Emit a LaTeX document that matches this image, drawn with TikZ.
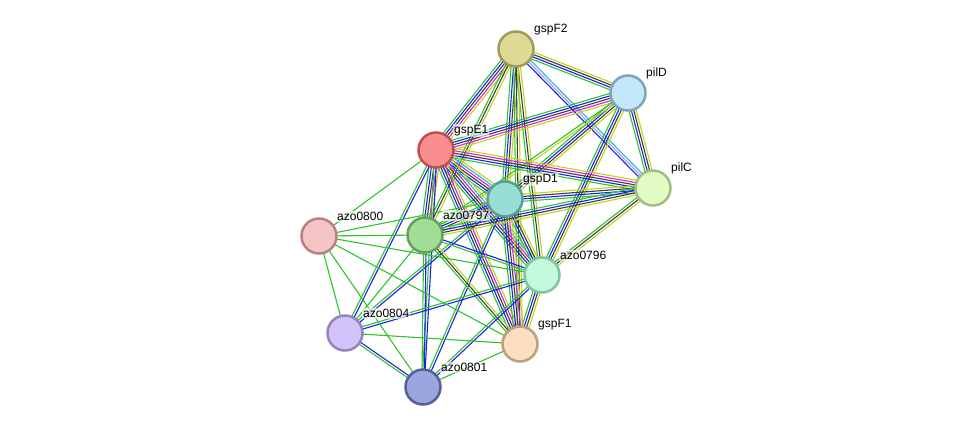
\documentclass[tikz,border=0pt]{standalone}
\usepackage{fontspec}
\setsansfont{Liberation Sans}
\usetikzlibrary{calc}
\pgfdeclarelayer{bg}
\pgfsetlayers{bg,main}

% evidence channels
\definecolor{nbhd}{RGB}{45,195,45}
\definecolor{cooc}{RGB}{30,30,235}
\definecolor{coex}{RGB}{60,60,60}
\definecolor{expt}{RGB}{220,30,220}
\definecolor{dbase}{RGB}{40,180,220}
\definecolor{txtm}{RGB}{190,210,30}
\definecolor{homo}{RGB}{160,160,250}

\newcommand{\linesep}{2.4}
\newcommand{\strlink}[3]{%
  \foreach \c [count=\n] in {#3} {\xdef\nlines{\n}}%
  \foreach \c [count=\i] in {#3} {%
    \pgfmathsetmacro\off{(\i-(\nlines+1)/2)*\linesep}%
    \draw[link, color=\c] ($(#1)!\off pt!90:(#2)$) -- ($(#2)!\off pt!-90:(#1)$);
  }%
}

\tikzset{
  prot/.style={circle, draw, line width=2.5pt, minimum size=35pt, inner sep=0pt},
  plabel/.style={font=\sffamily\fontsize{12}{12}\selectfont, anchor=west, inner sep=1pt,
    fill=white, fill opacity=.6, text opacity=1},
  link/.style={line width=1.1pt}
}

\begin{document}
\begin{tikzpicture}[x=1pt, y=-1pt]

        \useasboundingbox (0,0) rectangle (976,433);

        % proteins
        \node (gspF2) at (516,49)  [prot, fill={rgb,255:red,222;green,218;blue,148}, draw={rgb,255:red,160;green,155;blue,90}] {};
        \node (pilD) at (628,93)  [prot, fill={rgb,255:red,196;green,232;blue,250}, draw={rgb,255:red,125;green,165;blue,190}] {};
        \node (gspE1) at (436,150)  [prot, fill={rgb,255:red,250;green,142;blue,142}, draw={rgb,255:red,190;green,80;blue,80}] {};
        \node (gspD1) at (505,199)  [prot, fill={rgb,255:red,152;green,222;blue,212}, draw={rgb,255:red,90;green,160;blue,150}] {};
        \node (pilC) at (653,188)  [prot, fill={rgb,255:red,226;green,250;blue,196}, draw={rgb,255:red,160;green,190;blue,130}] {};
        \node (azo0800) at (319,236)  [prot, fill={rgb,255:red,245;green,196;blue,196}, draw={rgb,255:red,185;green,130;blue,130}] {};
        \node (azo0797) at (425,235)  [prot, fill={rgb,255:red,160;green,222;blue,150}, draw={rgb,255:red,100;green,160;blue,95}] {};
        \node (azo0796) at (542,275)  [prot, fill={rgb,255:red,196;green,250;blue,220}, draw={rgb,255:red,130;green,195;blue,160}] {};
        \node (azo0804) at (345,333)  [prot, fill={rgb,255:red,210;green,196;blue,250}, draw={rgb,255:red,150;green,130;blue,190}] {};
        \node (gspF1) at (520,344)  [prot, fill={rgb,255:red,252;green,222;blue,192}, draw={rgb,255:red,190;green,160;blue,125}] {};
        \node (azo0801) at (423,387)  [prot, fill={rgb,255:red,155;green,165;blue,222}, draw={rgb,255:red,85;green,95;blue,155}] {};

        % names
        \node (gspF2l) at (533,29.5) [plabel] {gspF2};
        \node (pilDl) at (645,73.5) [plabel] {pilD};
        \node (gspE1l) at (453,130.5) [plabel] {gspE1};
        \node (gspD1l) at (522,179.5) [plabel] {gspD1};
        \node (pilCl) at (670,168.5) [plabel] {pilC};
        \node (azo0800l) at (336,216.5) [plabel] {azo0800};
        \node (azo0797l) at (442,215.5) [plabel] {azo0797};
        \node (azo0796l) at (559,255.5) [plabel] {azo0796};
        \node (azo0804l) at (362,313.5) [plabel] {azo0804};
        \node (gspF1l) at (537,324.5) [plabel] {gspF1};
        \node (azo0801l) at (440,367.5) [plabel] {azo0801};

        \begin{pgfonlayer}{bg}
        \strlink{gspF2}{pilD}{nbhd,cooc,coex,txtm}
        \strlink{gspF2}{gspE1}{nbhd,cooc,coex,expt,txtm}
        \strlink{gspF2}{gspD1}{nbhd,cooc,coex,txtm}
        \strlink{gspF2}{azo0797}{nbhd,coex,txtm}
        \strlink{gspF2}{azo0796}{nbhd,coex,txtm}
        \strlink{gspF2}{gspF1}{nbhd,coex,txtm}
        \strlink{gspF2}{pilC}{cooc,homo,dbase}
        \strlink{pilD}{gspE1}{nbhd,cooc,coex,expt,txtm}
        \strlink{pilD}{pilC}{nbhd,cooc,coex,txtm}
        \strlink{pilD}{gspD1}{nbhd,cooc,coex,txtm}
        \strlink{pilD}{azo0796}{nbhd,cooc,coex,txtm}
        \strlink{pilD}{azo0797}{nbhd,txtm}
        \strlink{gspE1}{pilC}{nbhd,cooc,coex,expt,txtm}
        \strlink{gspE1}{gspD1}{nbhd,cooc,coex,expt,dbase,txtm}
        \strlink{gspE1}{azo0797}{nbhd,cooc,coex,expt,txtm}
        \strlink{gspE1}{azo0796}{nbhd,cooc,coex,expt,dbase,txtm}
        \strlink{gspE1}{gspF1}{nbhd,cooc,coex,expt,txtm}
        \strlink{gspE1}{azo0804}{nbhd,cooc}
        \strlink{gspE1}{azo0801}{nbhd,cooc}
        \strlink{gspE1}{azo0800}{nbhd}
        \strlink{gspD1}{pilC}{nbhd,cooc,coex,txtm}
        \strlink{gspD1}{azo0797}{nbhd,cooc,coex,txtm}
        \strlink{gspD1}{azo0796}{nbhd,cooc,coex,txtm}
        \strlink{gspD1}{gspF1}{nbhd,cooc,coex,expt,txtm}
        \strlink{gspD1}{azo0804}{nbhd,cooc}
        \strlink{gspD1}{azo0801}{nbhd,cooc}
        \strlink{gspD1}{azo0800}{nbhd}
        \strlink{pilC}{azo0797}{nbhd,cooc,coex,txtm}
        \strlink{pilC}{azo0796}{nbhd,coex,txtm}
        \strlink{azo0797}{azo0796}{nbhd,cooc}
        \strlink{azo0797}{gspF1}{nbhd,coex,txtm}
        \strlink{azo0797}{azo0801}{nbhd,cooc}
        \strlink{azo0797}{azo0804}{nbhd}
        \strlink{azo0797}{azo0800}{nbhd}
        \strlink{azo0796}{gspF1}{nbhd,cooc,coex,txtm}
        \strlink{azo0796}{azo0804}{nbhd,cooc}
        \strlink{azo0796}{azo0801}{nbhd,cooc}
        \strlink{azo0796}{azo0800}{nbhd}
        \strlink{azo0800}{azo0804}{nbhd}
        \strlink{azo0800}{azo0801}{nbhd}
        \strlink{azo0800}{gspF1}{nbhd}
        \strlink{azo0804}{gspF1}{nbhd}
        \strlink{azo0804}{azo0801}{nbhd,cooc}
        \strlink{azo0801}{gspF1}{nbhd}
        \end{pgfonlayer}

\end{tikzpicture}
\end{document}
